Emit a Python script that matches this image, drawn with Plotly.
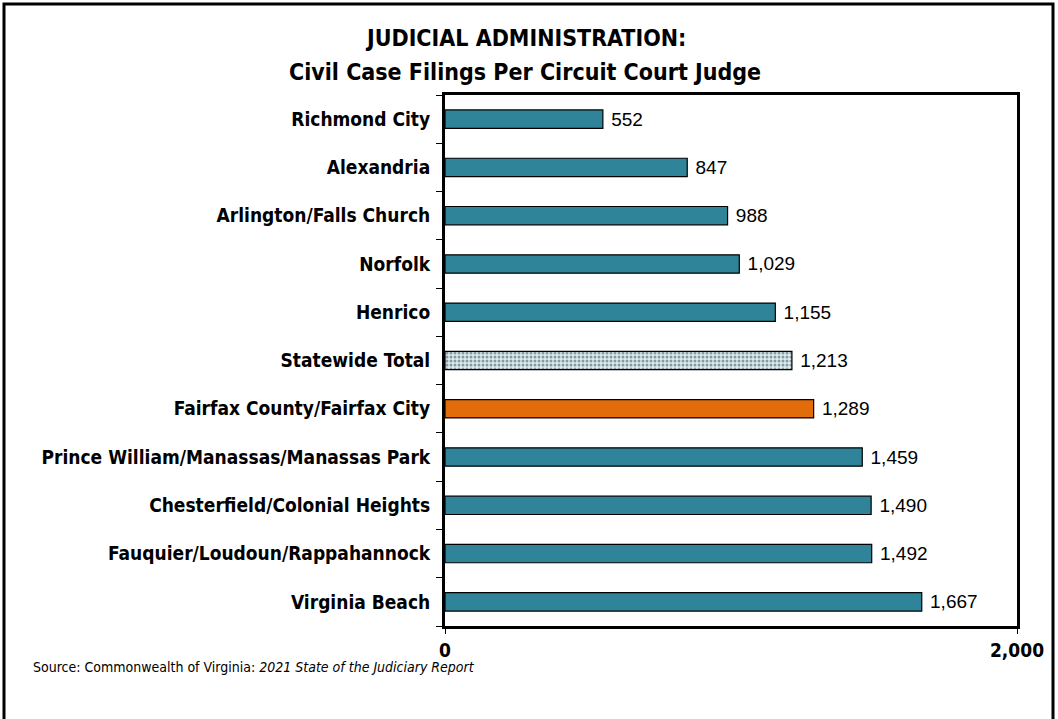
import plotly.graph_objects as go

# data, top to bottom as shown
courts = [
    "Richmond City",
    "Alexandria",
    "Arlington/Falls Church",
    "Norfolk",
    "Henrico",
    "Statewide Total",
    "Fairfax County/Fairfax City",
    "Prince William/Manassas/Manassas Park",
    "Chesterfield/Colonial Heights",
    "Fauquier/Loudoun/Rappahannock",
    "Virginia Beach",
]
filings = [552, 847, 988, 1029, 1155, 1213, 1289, 1459, 1490, 1492, 1667]
x_ticks = [0, 2000]

TEAL = "#2F8499"
ORANGE = "#E36C0A"
COND = "DejaVu Sans Condensed, Liberation Sans Narrow, sans-serif"

colors = []
patterns = []
for c in courts:
    if c == "Statewide Total":
        colors.append("#D8EDF4")
        patterns.append(".")
    elif c.startswith("Fairfax"):
        colors.append(ORANGE)
        patterns.append("")
    else:
        colors.append(TEAL)
        patterns.append("")

fig = go.Figure()
fig.add_trace(go.Bar(
    y=courts,
    x=filings,
    orientation="h",
    width=0.38,
    marker=dict(
        color=colors,
        line=dict(color="black", width=1.2),
        pattern=dict(shape=patterns, fgcolor="#5FA6BD", size=4, solidity=0.45,
                     fillmode="overlay"),
    ),
    text=[f" {v:,}" for v in filings],
    textposition="outside",
    constraintext="none",
    textfont=dict(family="Liberation Sans, Arial, sans-serif", size=19, color="black"),
    cliponaxis=False,
    hoverinfo="x+y",
))

# plot area geometry in pixels
L, R, T, B = 445, 41, 95, 93
W, H = 1058 - L - R, 719 - T - B

def px(x):
    return (x - L) / W

def py(y):
    return (719 - B - y) / H

fig.update_layout(
    width=1058,
    height=719,
    margin=dict(l=L, r=R, t=T, b=B),
    paper_bgcolor="white",
    plot_bgcolor="white",
    showlegend=False,
    xaxis=dict(
        range=[0, 2000],
        tickvals=x_ticks,
        ticktext=[f"<b>{v:,}</b>" for v in x_ticks],
        ticks="outside",
        ticklen=5,
        tickcolor="black",
        showgrid=False,
        zeroline=False,
        showline=True,
        linecolor="black",
        linewidth=3,
        mirror=True,
        ticklabelstandoff=0,
        tickfont=dict(family=COND, size=19, color="black"),
    ),
    yaxis=dict(
        autorange="reversed",
        ticks="outside",
        tickson="boundaries",
        ticklen=6,
        tickcolor="black",
        showgrid=False,
        showline=True,
        linecolor="black",
        linewidth=3,
        mirror=True,
        ticklabelstandoff=8,
        tickmode="array",
        tickvals=courts,
        ticktext=[f"<b>{c}</b>" for c in courts],
        tickfont=dict(family=COND, size=19, color="black"),
    ),
    shapes=[dict(
        type="rect", xref="paper", yref="paper",
        x0=px(4), x1=px(1053), y0=py(724), y1=py(4),
        line=dict(color="black", width=3),
    )],
    annotations=[
        dict(
            text="<b>JUDICIAL ADMINISTRATION:</b>",
            xref="paper", yref="paper", x=px(525), y=py(38),
            xanchor="center", yanchor="middle", showarrow=False,
            font=dict(family=COND, size=23, color="black"),
        ),
        dict(
            text="<b>Civil Case Filings Per Circuit Court Judge</b>",
            xref="paper", yref="paper", x=px(525), y=py(72),
            xanchor="center", yanchor="middle", showarrow=False,
            font=dict(family=COND, size=23, color="black"),
        ),
        dict(
            text="Source: Commonwealth of Virginia: <i>2021 State of the Judiciary Report</i>",
            xref="paper", yref="paper",
            x=px(31), y=py(667), xanchor="left", yanchor="middle",
            showarrow=False,
            font=dict(family=COND, size=14, color="black"),
        ),
    ],
)

fig.write_html("out.html", config={"displayModeBar": False},
               post_script="document.body.style.margin='0';")
